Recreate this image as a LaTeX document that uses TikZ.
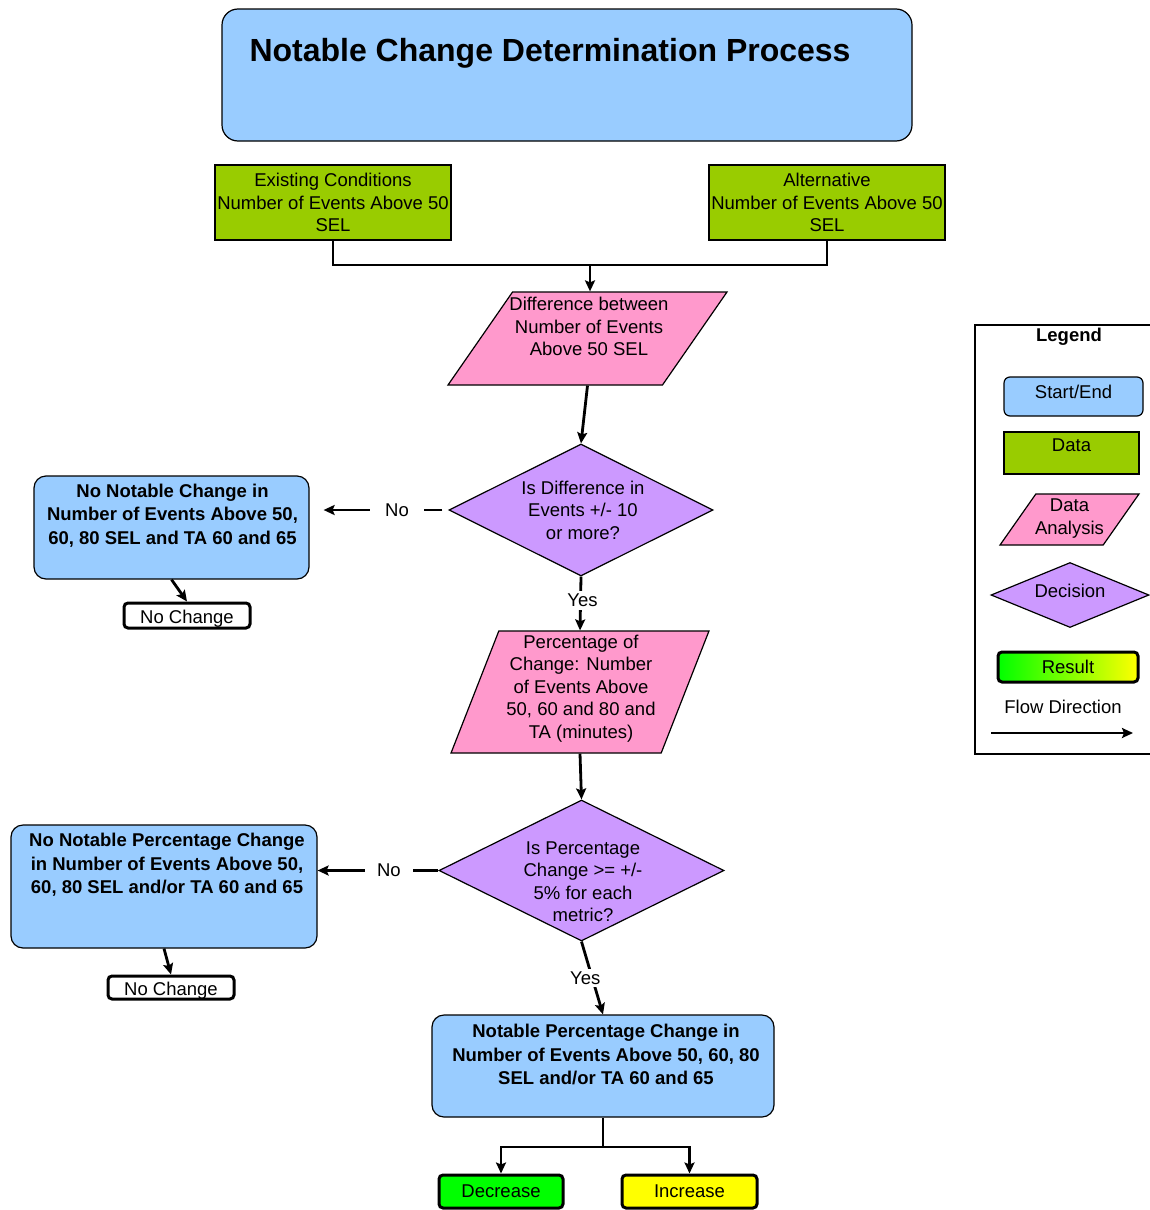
\documentclass[tikz,border=0pt]{standalone}
\usepackage{fontspec}
\setmainfont{Liberation Sans}
\usetikzlibrary{shapes.geometric,arrows.meta,positioning}
\definecolor{skyblue}{HTML}{99CCFF}
\definecolor{datagreen}{HTML}{99CC00}
\definecolor{anapink}{HTML}{FF99CC}
\definecolor{decpurple}{HTML}{CC99FF}
\definecolor{lowgreen}{HTML}{00FF00}
\definecolor{highyellow}{HTML}{FFFF00}
\tikzset{
  txt/.style={font=\fontsize{18.5}{22.5}\selectfont, align=center},
  boldtxt/.style={font=\fontsize{18.5}{23.5}\selectfont\bfseries, align=center},
  base/.style={draw=black, line width=1.2pt, inner sep=0pt, txt},
  startend/.style={base, fill=skyblue, rounded corners=12pt},
  datum/.style={base, fill=datagreen},
  analysis/.style={base, fill=anapink, trapezium, trapezium stretches=true, inner sep=2pt},
  decision/.style={base, fill=decpurple, diamond},
  result/.style={base, line width=3pt, rounded corners=4pt},
  answer/.style={txt, fill=white, inner xsep=15pt, inner ysep=3pt},
  link/.style={line width=2.8pt},
  flow/.style={line width=2.8pt, -{Stealth[length=11pt,width=10pt,inset=2pt]}},
}
\begin{document}
\begin{tikzpicture}[x=1pt,y=-1pt]
\useasboundingbox (0,0) rectangle (1149,1210);

% title
\node[startend, rounded corners=16pt, minimum width=690pt, minimum height=132pt] (title) at (567,75) {};
\node[anchor=west, font=\fontsize{32}{38}\selectfont\bfseries] (titletxt) at (246,53) {Notable Change Determination Process};

% data
\node[datum, minimum width=236pt, minimum height=75pt] (exist) at (333,202.5) {Existing Conditions\\Number of Events Above 50\\SEL};
\node[datum, minimum width=236pt, minimum height=75pt] (alt) at (827,202.5) {Alternative\\Number of Events Above 50\\SEL};

% analysis + decisions
\node[analysis, trapezium left angle=66.7, trapezium right angle=113.3, minimum width=279pt, minimum height=93pt,
      label={[txt, yshift=12pt, xshift=1.5pt]center:{Difference between\\Number of Events\\Above 50 SEL}}] (diff) at (587.5,338.5) {};
\node[decision, minimum width=264pt, minimum height=132pt,
      label={[txt, xshift=2pt]center:{Is Difference in\\Events +/- 10\\or more?}}] (q1) at (581,510) {};
\node[analysis, trapezium left angle=73.6, trapezium right angle=106.4, minimum width=258pt, minimum height=122pt,
      label={[txt, yshift=3.5pt, xshift=1pt]center:{Percentage of\\Change: Number\\of Events Above\\50, 60 and 80 and\\TA (minutes)}}] (pct) at (580,692) {};
\node[decision, minimum width=285pt, minimum height=141pt,
      label={[txt, yshift=-11pt, xshift=1.5pt]center:{Is Percentage\\Change >= +/-\\5\% for each\\metric?}}] (q2) at (581.5,870.5) {};

% outcomes
\node[startend, minimum width=275pt, minimum height=103pt,
      label={[boldtxt, yshift=12pt, xshift=1pt]center:{No Notable Change in\\Number of Events Above 50,\\60, 80 SEL and TA 60 and 65}}] (nochg1) at (171.5,527.5) {};
\node[startend, minimum width=306pt, minimum height=123pt,
      label={[boldtxt, yshift=21.5pt, xshift=3pt]center:{No Notable Percentage Change\\in Number of Events Above 50,\\60, 80 SEL and/or TA 60 and 65}}] (nochg2) at (164,886.5) {};
\node[startend, minimum width=342pt, minimum height=102pt,
      label={[boldtxt, yshift=11.5pt, xshift=3pt]center:{Notable Percentage Change in\\Number of Events Above 50, 60, 80\\SEL and/or TA 60 and 65}}] (notable) at (603,1066) {};

\node[result, fill=white, minimum width=126pt, minimum height=25pt, label={[txt, yshift=-3pt]center:No Change}] (nc1) at (187,615.5) {};
\node[result, fill=white, minimum width=126pt, minimum height=23pt, label={[txt, yshift=-3pt]center:No Change}] (nc2) at (171,987.5) {};
\node[result, fill=lowgreen, minimum width=124pt, minimum height=33pt] (dec) at (501,1191.5) {Decrease};
\node[result, fill=highyellow, minimum width=135pt, minimum height=33pt] (inc) at (689.5,1191.5) {Increase};

% connectors
\coordinate (join) at (590,265);
\coordinate (split) at (603,1147);
\draw[link] (exist.south) |- (join) -| (alt.south);
\draw[flow] (join) -- (join |- diff.north);
\draw[flow] (diff.south) -- (q1.north);
\draw[flow, shorten >=14pt, shorten <=6pt] (q1.west) -- node[answer, pos=0.37] (no1) {No} (q1.west -| nochg1.east);
\draw[flow] (q1.south) -- node[answer, pos=0.44, xshift=2pt] (yes1) {Yes} (pct.north);
\draw[flow] (nochg1.south) -- (nc1.north);
\draw[flow] (pct.south) -- (q2.north);
\draw[flow] (q2.west) -- node[answer, inner xsep=12pt, pos=0.41] (no2) {No} (q2.west -| nochg2.east);
\draw[flow] (nochg2.south) -- (nc2.north);
\draw[flow] (q2.south) -- node[answer, inner xsep=4pt, pos=0.5, xshift=-7pt] (yes2) {Yes} (notable.north);
\draw[link] (notable.south) -- (split);
\draw[flow] (split) -| (dec.north);
\draw[flow] (split) -| (inc.north);

% legend
\draw[line width=1.8pt] (975,325) rectangle (1160,754);
\node[font=\fontsize{18.5}{20}\selectfont\bfseries] (legend) at (1069,337) {Legend};
\node[startend, rounded corners=6pt, minimum width=139pt, minimum height=39pt, label={[txt, yshift=5pt]center:Start/End}] (lgse) at (1073.5,396.5) {};
\node[datum, minimum width=135pt, minimum height=42pt, label={[txt, yshift=8pt]center:Data}] (lgdata) at (1071.5,453) {};
\node[analysis, trapezium left angle=62, trapezium right angle=118, minimum width=139pt, minimum height=51pt,
      label={[txt, yshift=1pt]center:{Data\\Analysis}}] (lgana) at (1069.5,519.5) {};
\node[decision, minimum width=158pt, minimum height=65pt, label={[txt, yshift=4pt]center:Decision}] (lgdec) at (1070,595) {};
\node[result, left color=lowgreen, right color=highyellow, minimum width=140pt, minimum height=30pt] (lgres) at (1068,667) {Result};
\node[txt] (lgflow) at (1063,707) {Flow Direction};
\coordinate (flowa) at (991,733);
\coordinate (flowb) at (1133,733);
\draw[flow] (flowa) -- (flowb);
\end{tikzpicture}
\end{document}
